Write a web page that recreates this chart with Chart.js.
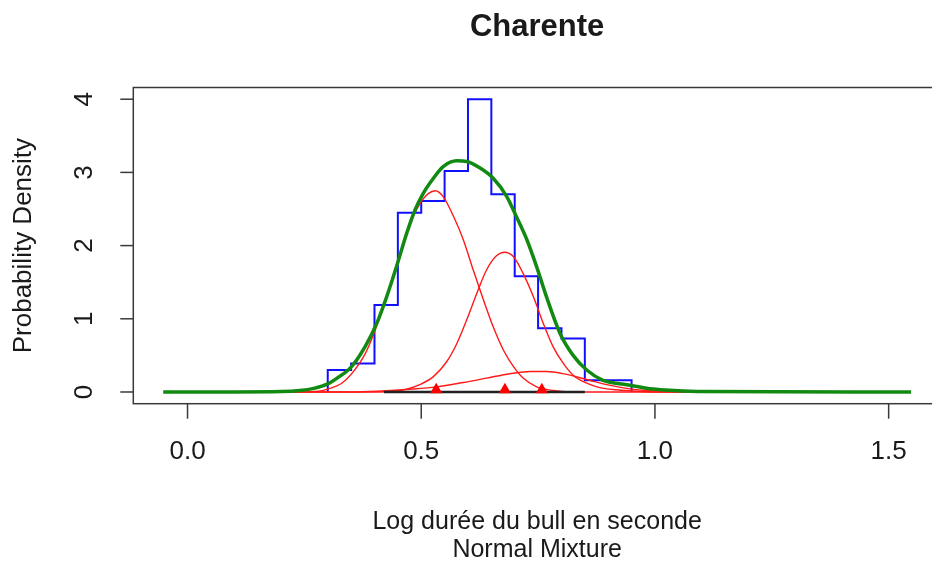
<!DOCTYPE html>
<html>
<head>
<meta charset="utf-8">
<script src="https://cdn.jsdelivr.net/npm/chart.js@4"></script>
<style>
  html, body { margin: 0; padding: 0; background: #fff; overflow: hidden; }
  #plot { display: block; }
</style>
</head>
<body>
<canvas id="plot" width="950" height="561"></canvas>
<script>
// histogram (density scale)
const binEdges = [0.30, 0.35, 0.40, 0.45, 0.50, 0.55, 0.60, 0.65, 0.70, 0.75, 0.80, 0.85, 0.90, 0.95];
const binDensity = [0.30, 0.39, 1.19, 2.45, 2.61, 3.02, 4.00, 2.70, 1.58, 0.87, 0.73, 0.16, 0.16];

// overall density curve (green)
const fitX = [-0.052, 0.10, 0.20, 0.24, 0.27, 0.30, 0.32, 0.35, 0.38, 0.405, 0.426, 0.447, 0.469, 0.487, 0.504, 0.526, 0.547, 0.576, 0.597, 0.626, 0.654, 0.683, 0.704, 0.726, 0.747, 0.768, 0.797, 0.825, 0.854, 0.889, 0.94, 0.996, 1.04, 1.10, 1.548];
const fitY = [0, 0, 0.005, 0.02, 0.05, 0.11, 0.19, 0.34, 0.62, 0.94, 1.30, 1.71, 2.17, 2.49, 2.71, 2.92, 3.08, 3.16, 3.15, 3.06, 2.92, 2.67, 2.39, 2.08, 1.71, 1.30, 0.80, 0.50, 0.30, 0.16, 0.10, 0.04, 0.02, 0.005, 0];

// mixture components (red)
const comp1X = [0.225, 0.28, 0.30, 0.33, 0.35, 0.38, 0.40, 0.42, 0.44, 0.46, 0.48, 0.50, 0.515, 0.53, 0.547, 0.569, 0.590, 0.611, 0.633, 0.654, 0.676, 0.697, 0.718, 0.747, 0.782, 0.82, 1.087];
const comp1Y = [0, 0.01, 0.04, 0.12, 0.24, 0.52, 0.82, 1.18, 1.60, 2.00, 2.36, 2.60, 2.71, 2.75, 2.67, 2.40, 2.08, 1.67, 1.26, 0.89, 0.57, 0.35, 0.19, 0.07, 0.02, 0, 0];
const comp2X = [0.225, 0.40, 0.44, 0.469, 0.497, 0.526, 0.554, 0.576, 0.597, 0.619, 0.640, 0.661, 0.678, 0.697, 0.718, 0.740, 0.761, 0.782, 0.804, 0.825, 0.854, 0.882, 0.918, 0.96, 1.0, 1.087];
const comp2Y = [0, 0, 0.01, 0.04, 0.10, 0.21, 0.41, 0.66, 0.98, 1.35, 1.67, 1.86, 1.91, 1.85, 1.62, 1.30, 0.94, 0.62, 0.39, 0.23, 0.12, 0.06, 0.03, 0.01, 0, 0];
const comp3X = [0.225, 0.35, 0.405, 0.483, 0.533, 0.590, 0.640, 0.690, 0.733, 0.768, 0.811, 0.854, 0.897, 0.939, 0.982, 1.03, 1.087];
const comp3Y = [0, 0, 0.01, 0.04, 0.07, 0.13, 0.19, 0.25, 0.28, 0.28, 0.24, 0.17, 0.10, 0.05, 0.02, 0.005, 0];

// component means (triangles) and data span (black)
const compMeans = [0.532, 0.679, 0.758];
const meanLevel = 0.03;
const spanX = [0.42, 0.85];

// axes
const xTicks = [0, 0.5, 1, 1.5];
const xTickLabels = ['0.0', '0.5', '1.0', '1.5'];
const yTicks = [0, 1, 2, 3, 4];
const yTickLabels = ['0', '1', '2', '3', '4'];
const titleText = 'Charente';
const xTitle = ['Log durée du bull en seconde', 'Normal Mixture'];
const yTitle = 'Probability Density';

const pairs = (xs, ys) => xs.map((x, i) => ({ x, y: ys[i] }));

const histPoints = () => {
    const pts = [{ x: binEdges[0], y: 0 }];
    binDensity.forEach((d, i) => pts.push({ x: binEdges[i], y: d }));
    pts.push({ x: binEdges[binEdges.length - 1], y: 0 });
    return pts;
};

const FONT = '"Liberation Sans", Arial, sans-serif';
const INK = '#1a1a1a';

const rFrame = {
    id: 'rFrame',
    afterDraw(chart) {
        const { ctx, chartArea: a, scales } = chart;
        const xs = scales.x, ys = scales.y;
        ctx.save();
        // box
        ctx.strokeStyle = '#3a3a3a';
        ctx.lineWidth = 1.5;
        ctx.strokeRect(a.left, a.top, a.right - a.left, a.bottom - a.top);
        // x ticks + labels
        ctx.fillStyle = INK;
        ctx.font = '26px ' + FONT;
        ctx.textAlign = 'center';
        ctx.textBaseline = 'middle';
        xTicks.forEach((v, i) => {
            const px = xs.getPixelForValue(v);
            ctx.beginPath();
            ctx.moveTo(px, a.bottom);
            ctx.lineTo(px, a.bottom + 15);
            ctx.stroke();
            ctx.fillText(xTickLabels[i], px, a.bottom + 48);
        });
        // y ticks + rotated labels
        yTicks.forEach((v, i) => {
            const py = ys.getPixelForValue(v);
            ctx.beginPath();
            ctx.moveTo(a.left, py);
            ctx.lineTo(a.left - 13, py);
            ctx.stroke();
            ctx.save();
            ctx.translate(a.left - 48, py);
            ctx.rotate(-Math.PI / 2);
            ctx.fillText(yTickLabels[i], 0, 0);
            ctx.restore();
        });
        // axis titles
        const cx = (a.left + a.right) / 2;
        ctx.textBaseline = 'alphabetic';
        ctx.font = '25px ' + FONT;
        ctx.fillText(xTitle[0], cx, 529);
        ctx.fillText(xTitle[1], cx, 557);
        ctx.font = '26px ' + FONT;
        ctx.save();
        ctx.translate(31, (a.top + a.bottom) / 2);
        ctx.rotate(-Math.PI / 2);
        ctx.fillText(yTitle, 0, 0);
        ctx.restore();
        // main title
        ctx.font = 'bold 31px ' + FONT;
        ctx.fillText(titleText, cx, 36);
        ctx.restore();
    }
};

new Chart(document.getElementById('plot'), {
    type: 'line',
    data: {
        datasets: [
            {
                label: 'means',
                data: compMeans.map(m => ({ x: m, y: meanLevel })),
                showLine: false,
                pointStyle: 'triangle',
                pointRadius: 7,
                pointBackgroundColor: '#ff0000',
                pointBorderWidth: 0,
                order: 0
            },
            {
                label: 'fit',
                data: pairs(fitX, fitY),
                borderColor: '#128a12',
                borderWidth: 3.5,
                pointRadius: 0,
                cubicInterpolationMode: 'monotone',
                order: 1
            },
            {
                label: 'span',
                data: spanX.map(x => ({ x, y: 0 })),
                borderColor: '#222',
                borderWidth: 2.5,
                pointRadius: 0,
                order: 2
            },
            {
                label: 'comp1',
                data: pairs(comp1X, comp1Y),
                borderColor: '#ff1a1a',
                borderWidth: 1.4,
                pointRadius: 0,
                cubicInterpolationMode: 'monotone',
                order: 3
            },
            {
                label: 'comp2',
                data: pairs(comp2X, comp2Y),
                borderColor: '#ff1a1a',
                borderWidth: 1.4,
                pointRadius: 0,
                cubicInterpolationMode: 'monotone',
                order: 3
            },
            {
                label: 'comp3',
                data: pairs(comp3X, comp3Y),
                borderColor: '#ff1a1a',
                borderWidth: 1.4,
                pointRadius: 0,
                cubicInterpolationMode: 'monotone',
                order: 3
            },
            {
                label: 'hist',
                data: histPoints(),
                borderColor: '#1010ff',
                borderWidth: 2,
                pointRadius: 0,
                stepped: 'before',
                order: 4
            }
        ]
    },
    options: {
        responsive: false,
        animation: false,
        events: [],
        layout: { padding: { left: 133.3, top: 87.5, right: 9, bottom: 157.3 } },
        plugins: { legend: { display: false }, tooltip: { enabled: false } },
        scales: {
            x: {
                type: 'linear', display: false, min: -0.116, max: 1.612,
                afterBuildTicks: s => { s.ticks = xTicks.map(value => ({ value })); }
            },
            y: {
                type: 'linear', display: false, min: -0.16, max: 4.16,
                afterBuildTicks: s => { s.ticks = yTicks.map(value => ({ value })); }
            }
        }
    },
    plugins: [rFrame]
});
</script>
</body>
</html>
